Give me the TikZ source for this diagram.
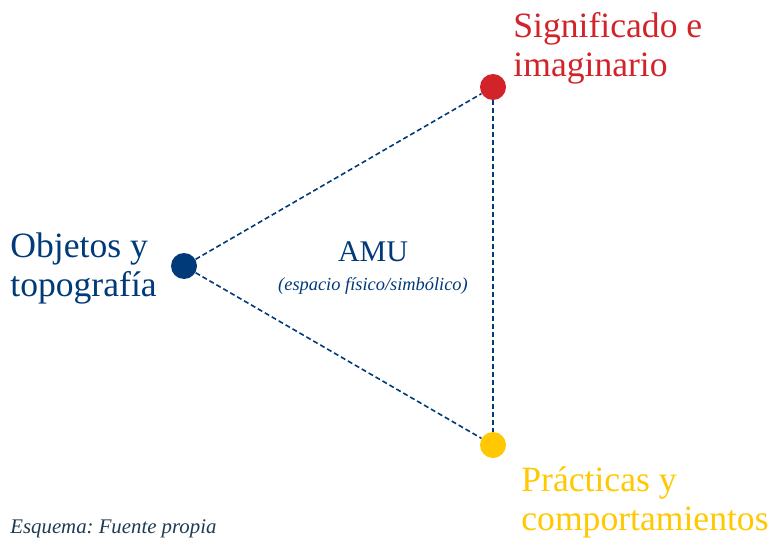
\documentclass[tikz,border=0pt]{standalone}
\usepackage{fontspec}
\setmainfont{Liberation Serif}
\usepackage{tikz}
\usetikzlibrary{positioning}
\frenchspacing
\definecolor{nBlue}{RGB}{0,58,120}
\definecolor{nRed}{RGB}{210,35,42}
\definecolor{nYellow}{RGB}{255,200,0}
\definecolor{nSlate}{RGB}{30,58,82}
\tikzstyle{dot}   = [circle, inner sep=0pt, minimum size=13pt]
\tikzstyle{lab}   = [anchor=north west, inner sep=0pt, align=left,
font=\fontsize{17.8}{19.5}\selectfont]
\tikzstyle{link}  = [draw=nBlue, line width=0.8pt, dash pattern=on 2.5pt off 1.5pt]

\begin{document}
\begin{tikzpicture}[x=0.5pt, y=-0.5pt]
      \useasboundingbox (0,0) rectangle (776,540);

      \node(Obj) [dot, fill=nBlue]   at (184,266) {};
      \node(Sig) [dot, fill=nRed]    at (493,87)  {};
      \node(Pra) [dot, fill=nYellow] at (493,445) {};

      \draw [link] (Obj) -- (Sig);
      \draw [link] (Obj) -- (Pra);
      \draw [link] (Sig) -- (Pra);

      \node(ObjT) [lab, text=nBlue]   at (10,232)  {Objetos y\\topografía};
      \node(SigT) [lab, text=nRed]    at (513,12)  {Significado e\\imaginario};
      \node(PraT) [lab, text=nYellow] at (521,466) {Prácticas y\\comportamientos};

      \node(Amu)  [text=nBlue, inner sep=0pt, anchor=base,
                   font=\fontsize{15}{17}\selectfont] at (373,261) {AMU};
      \node(Esp)  [text=nBlue, inner sep=0pt, anchor=base,
                   font=\fontsize{9.2}{10}\selectfont\itshape, below=8pt of Amu.base]
                  {(espacio físico/simbólico)};

      \node(Src)  [text=nSlate, inner sep=0pt, anchor=base west,
                   font=\fontsize{10.4}{12}\selectfont\itshape] at (10,533)
                  {Esquema: Fuente propia};
    \end{tikzpicture}
\end{document}
